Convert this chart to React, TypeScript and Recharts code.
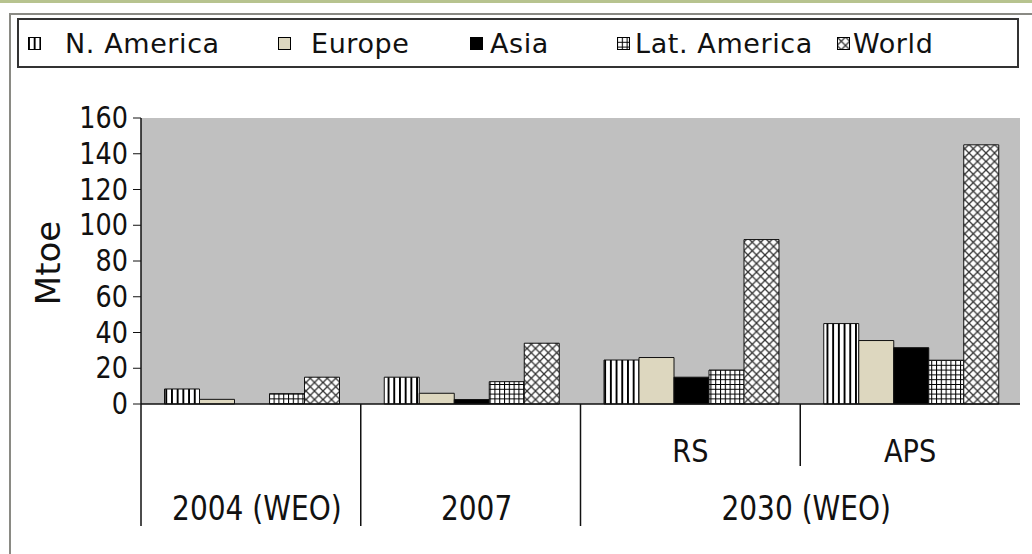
import React from "react";
import {
  BarChart,
  Bar,
  XAxis,
  YAxis,
  CartesianGrid,
  Legend,
  Label,
} from "recharts";

// categories (one band each) and their two label rows
const categories = ["2004 (WEO)", "2007", "2030 RS", "2030 APS"];
const scenarioLabels = ["", "", "RS", "APS"];
const yearLabels = ["2004 (WEO)", "2007", "2030 (WEO)"];
const yearSpans = [1, 1, 2];

// Mtoe per region
const nAmerica = [8.4, 15, 24.6, 45];
const europe = [2.6, 6, 26, 35.5];
const asia = [0, 2.5, 15, 31.5];
const latAmerica = [5.8, 12.5, 19, 24.5];
const world = [15, 34, 92, 145];

const yTicks = [0, 20, 40, 60, 80, 100, 120, 140, 160];

const seriesKeys = ["nAmerica", "europe", "asia", "latAmerica", "world"];
const seriesNames = ["N. America", "Europe", "Asia", "Lat. America", "World"];
const seriesFills = [
  "url(#stripes)",
  "#ddd7bf",
  "#000000",
  "url(#grid)",
  "url(#cross)",
];

const data = categories.map((name, i) => ({
  name,
  nAmerica: nAmerica[i],
  europe: europe[i],
  asia: asia[i],
  latAmerica: latAmerica[i],
  world: world[i],
}));

const FONT = "'DejaVu Sans', Verdana, sans-serif";

// legend layout (page x of swatch, gap to text)
const legendLeft = [28, 278, 470, 617, 837];
const legendGap = [24, 20, 7, 5, 3];

function LegendBox() {
  return (
    <div
      style={{
        position: "relative",
        width: 998,
        height: 46,
        border: "2px solid #333",
        background: "#fff",
        fontFamily: FONT,
        fontSize: 27,
        letterSpacing: 0.6,
        color: "#111",
      }}
    >
      {seriesNames.map((name, i) => (
        <div
          key={name}
          style={{
            position: "absolute",
            left: legendLeft[i] - 19,
            top: 0,
            height: 46,
            display: "flex",
            alignItems: "center",
            whiteSpace: "nowrap",
          }}
        >
          <svg width={13} height={13} style={{ marginRight: legendGap[i] }}>
            <rect
              x={0.5}
              y={0.5}
              width={12}
              height={12}
              fill={seriesFills[i]}
              stroke="#000"
              strokeWidth={1}
            />
          </svg>
          <span>{name}</span>
        </div>
      ))}
    </div>
  );
}

const YTick = (props: any) => {
  const { x, y, payload } = props;
  return (
    <text
      transform={`translate(${x},${y}) scale(0.85,1)`}
      textAnchor="end"
      dominantBaseline="central"
      fontSize={30}
      fontFamily={FONT}
      fill="#111"
    >
      {payload.value}
    </text>
  );
};

const XTick = (props: any) => {
  const { x, y, index, width, visibleTicksCount, payload } = props;
  const bw =
    width && visibleTicksCount ? width / visibleTicksCount : (payload.offset || 110) * 2;
  const left = x - bw / 2;
  const lineLen = scenarioLabels[index] && index > 0 && scenarioLabels[index - 1] ? 62 : 122;

  // year label if this band starts a year group
  let start = 0;
  let yearText = null as any;
  yearLabels.forEach((lab, g) => {
    if (start === index) {
      const cx = left + (yearSpans[g] * bw) / 2 + 6;
      yearText = (
        <text
          x={cx}
          y={y + 116}
          textAnchor="middle"
          fontSize={33}
          fontFamily={FONT}
          fill="#111"
          transform={`translate(${cx},0) scale(0.85,1) translate(${-cx},0)`}
        >
          {lab}
        </text>
      );
    }
    start += yearSpans[g];
  });

  return (
    <g>
      <line x1={left} x2={left} y1={y} y2={y + lineLen} stroke="#111" strokeWidth={1.5} />
      {scenarioLabels[index] ? (
        <text
          x={x}
          y={y + 58}
          textAnchor="middle"
          fontSize={32}
          fontFamily={FONT}
          fill="#111"
          transform={`translate(${x},0) scale(0.85,1) translate(${-x},0)`}
        >
          {scenarioLabels[index]}
        </text>
      ) : null}
      {yearText}
    </g>
  );
};

export default function App() {
  return (
    <div
      style={{
        position: "absolute",
        left: 0,
        top: 0,
        width: 1032,
        height: 554,
        background: "#fff",
        overflow: "hidden",
      }}
    >
      {/* page frame */}
      <div style={{ position: "absolute", left: 0, top: 0, width: 1032, height: 3, background: "#b7c38f" }} />
      <div style={{ position: "absolute", left: 9, top: 13, width: 1023, height: 2, background: "#8a8a84" }} />
      <div style={{ position: "absolute", left: 9, top: 13, width: 2, height: 541, background: "#8a8a84" }} />

      <div style={{ position: "absolute", left: 0, top: 0 }}>
        <BarChart
          width={1032}
          height={554}
          data={data}
          margin={{ top: 118, right: 12, bottom: 0, left: 0 }}
          barGap={0}
          barCategoryGap="10.7%"
        >
          <defs>
            <pattern id="stripes" patternUnits="userSpaceOnUse" width={5.7} height={10}>
              <rect width={5.7} height={10} fill="#fff" />
              <rect x={0} width={1.9} height={10} fill="#000" />
            </pattern>
            <pattern id="grid" patternUnits="userSpaceOnUse" width={4.8} height={4.8}>
              <rect width={4.8} height={4.8} fill="#fff" />
              <path d="M0,0.5 H4.8 M0.5,0 V4.8" stroke="#000" strokeWidth={1.1} />
            </pattern>
            <pattern id="cross" patternUnits="userSpaceOnUse" width={8.5} height={8.5}>
              <rect width={8.5} height={8.5} fill="#fff" />
              <path d="M0,0 L8.5,8.5 M8.5,0 L0,8.5" stroke="#333" strokeWidth={1.3} />
            </pattern>
          </defs>
          <CartesianGrid fill="#c0c0c0" horizontal={false} vertical={false} />
          <XAxis
            dataKey="name"
            height={150}
            axisLine={{ stroke: "#111", strokeWidth: 1.5 }}
            tickLine={false}
            tickSize={0}
            tickMargin={0}
            interval={0}
            tick={<XTick />}
          />
          <XAxis
            xAxisId="top"
            dataKey="name"
            orientation="top"
            height={0}
            tick={false}
            tickLine={false}
            axisLine={{ stroke: "#8f8f8f" }}
          />
          <YAxis
            width={141}
            domain={[0, 160]}
            ticks={yTicks}
            interval={0}
            tickSize={8}
            tickMargin={5}
            axisLine={{ stroke: "#111", strokeWidth: 1.5 }}
            tickLine={{ stroke: "#111" }}
            tick={<YTick />}
          >
            <Label
              content={(p: any) => {
                const vb = p.viewBox || { x: 0, y: 118, height: 286 };
                const cx = vb.x + 48;
                const cy = vb.y + vb.height / 2 + 2;
                return (
                  <text
                    x={cx}
                    y={cy}
                    textAnchor="middle"
                    dominantBaseline="central"
                    fontSize={34}
                    fontFamily={FONT}
                    fill="#111"
                    transform={`rotate(-90, ${cx}, ${cy})`}
                  >
                    Mtoe
                  </text>
                );
              }}
            />
          </YAxis>
          <YAxis
            yAxisId="right"
            orientation="right"
            width={0}
            domain={[0, 160]}
            tick={false}
            tickLine={false}
            axisLine={{ stroke: "#8f8f8f" }}
          />
          <Legend
            layout="horizontal"
            verticalAlign="middle"
            align="center"
            wrapperStyle={{ top: 18, left: 17, width: 1002, height: 50 }}
            content={() => <LegendBox />}
          />
          {seriesKeys.map((k, i) => (
            <Bar
              key={k}
              dataKey={k}
              name={seriesNames[i]}
              fill={seriesFills[i]}
              stroke="#111"
              strokeWidth={1}
              isAnimationActive={false}
            />
          ))}
        </BarChart>
      </div>
    </div>
  );
}
